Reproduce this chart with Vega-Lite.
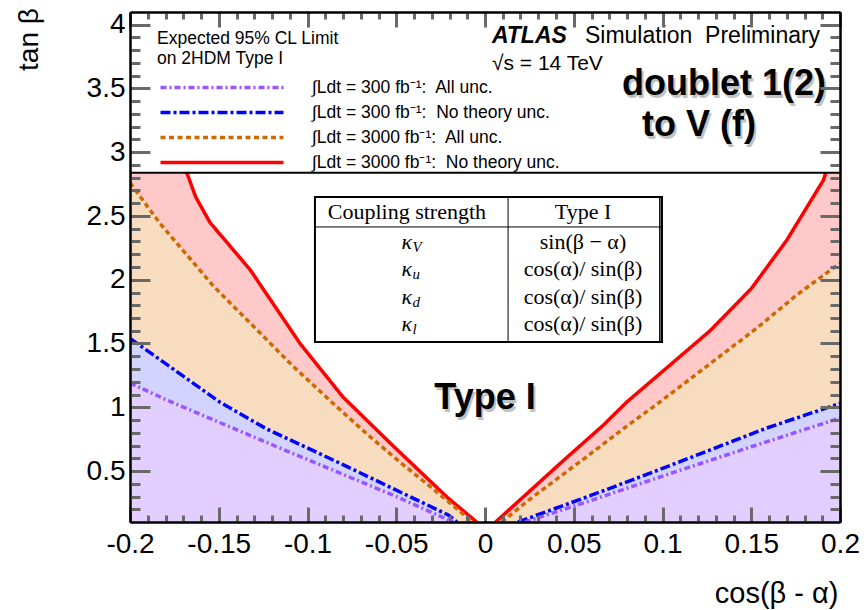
{
  "$schema": "https://vega.github.io/schema/vega-lite/v6.json",
  "width": 710,
  "height": 510,
  "autosize": {"type": "none"},
  "padding": {"left": 130, "top": 12, "right": 26, "bottom": 88},
  "background": "white",
  "config": {
    "view": {"stroke": null},
    "font": "Liberation Sans",
    "axis": {"grid": false, "domainColor": "black", "domainWidth": 2, "labelFont": "Liberation Sans", "labelFontSize": 28, "labelColor": "black", "titleFont": "Liberation Sans", "titleFontSize": 28, "titleFontWeight": "normal", "titleColor": "black", "labelOverlap": false, "labelFlush": false, "labelBound": false}
  },
  "datasets": {
    "curves": [
      {"series": "∫Ldt = 3000 fb⁻¹:  No theory unc.", "side": "L", "kind": "corner", "x": -0.2, "y": 2.84},
      {"series": "∫Ldt = 3000 fb⁻¹:  No theory unc.", "side": "L", "x": -0.168, "y": 2.84},
      {"series": "∫Ldt = 3000 fb⁻¹:  No theory unc.", "side": "L", "x": -0.163, "y": 2.65},
      {"series": "∫Ldt = 3000 fb⁻¹:  No theory unc.", "side": "L", "x": -0.155, "y": 2.45},
      {"series": "∫Ldt = 3000 fb⁻¹:  No theory unc.", "side": "L", "x": -0.1324, "y": 2.08},
      {"series": "∫Ldt = 3000 fb⁻¹:  No theory unc.", "side": "L", "x": -0.1042, "y": 1.5},
      {"series": "∫Ldt = 3000 fb⁻¹:  No theory unc.", "side": "L", "x": -0.08, "y": 1.08},
      {"series": "∫Ldt = 3000 fb⁻¹:  No theory unc.", "side": "L", "x": -0.052, "y": 0.7},
      {"series": "∫Ldt = 3000 fb⁻¹:  No theory unc.", "side": "L", "x": -0.021, "y": 0.29},
      {"series": "∫Ldt = 3000 fb⁻¹:  No theory unc.", "side": "L", "x": -0.0047, "y": 0.1},
      {"series": "∫Ldt = 3000 fb⁻¹:  No theory unc.", "side": "R", "x": 0.006, "y": 0.1},
      {"series": "∫Ldt = 3000 fb⁻¹:  No theory unc.", "side": "R", "x": 0.044, "y": 0.58},
      {"series": "∫Ldt = 3000 fb⁻¹:  No theory unc.", "side": "R", "x": 0.0667, "y": 0.86},
      {"series": "∫Ldt = 3000 fb⁻¹:  No theory unc.", "side": "R", "x": 0.0798, "y": 1.04},
      {"series": "∫Ldt = 3000 fb⁻¹:  No theory unc.", "side": "R", "x": 0.1268, "y": 1.6},
      {"series": "∫Ldt = 3000 fb⁻¹:  No theory unc.", "side": "R", "x": 0.15, "y": 1.93},
      {"series": "∫Ldt = 3000 fb⁻¹:  No theory unc.", "side": "R", "x": 0.17, "y": 2.31},
      {"series": "∫Ldt = 3000 fb⁻¹:  No theory unc.", "side": "R", "x": 0.1906, "y": 2.78},
      {"series": "∫Ldt = 3000 fb⁻¹:  No theory unc.", "side": "R", "x": 0.192, "y": 2.84},
      {"series": "∫Ldt = 3000 fb⁻¹:  No theory unc.", "side": "R", "kind": "corner", "x": 0.2, "y": 2.84},

      {"series": "∫Ldt = 3000 fb⁻¹:  All unc.", "side": "L", "x": -0.2, "y": 2.76},
      {"series": "∫Ldt = 3000 fb⁻¹:  All unc.", "side": "L", "x": -0.183, "y": 2.44},
      {"series": "∫Ldt = 3000 fb⁻¹:  All unc.", "side": "L", "x": -0.153, "y": 1.95},
      {"series": "∫Ldt = 3000 fb⁻¹:  All unc.", "side": "L", "x": -0.108, "y": 1.32},
      {"series": "∫Ldt = 3000 fb⁻¹:  All unc.", "side": "L", "x": -0.0856, "y": 1.03},
      {"series": "∫Ldt = 3000 fb⁻¹:  All unc.", "side": "L", "x": -0.0665, "y": 0.79},
      {"series": "∫Ldt = 3000 fb⁻¹:  All unc.", "side": "L", "x": -0.048, "y": 0.57},
      {"series": "∫Ldt = 3000 fb⁻¹:  All unc.", "side": "L", "x": -0.031, "y": 0.38},
      {"series": "∫Ldt = 3000 fb⁻¹:  All unc.", "side": "L", "x": -0.007, "y": 0.1},
      {"series": "∫Ldt = 3000 fb⁻¹:  All unc.", "side": "R", "x": 0.0094, "y": 0.1},
      {"series": "∫Ldt = 3000 fb⁻¹:  All unc.", "side": "R", "x": 0.0254, "y": 0.28},
      {"series": "∫Ldt = 3000 fb⁻¹:  All unc.", "side": "R", "x": 0.059, "y": 0.63},
      {"series": "∫Ldt = 3000 fb⁻¹:  All unc.", "side": "R", "x": 0.0778, "y": 0.83},
      {"series": "∫Ldt = 3000 fb⁻¹:  All unc.", "side": "R", "x": 0.1003, "y": 1.06},
      {"series": "∫Ldt = 3000 fb⁻¹:  All unc.", "side": "R", "x": 0.1531, "y": 1.62},
      {"series": "∫Ldt = 3000 fb⁻¹:  All unc.", "side": "R", "x": 0.1756, "y": 1.88},
      {"series": "∫Ldt = 3000 fb⁻¹:  All unc.", "side": "R", "x": 0.2, "y": 2.13},

      {"series": "∫Ldt = 300 fb⁻¹:  No theory unc.", "side": "L", "x": -0.2, "y": 1.54},
      {"series": "∫Ldt = 300 fb⁻¹:  No theory unc.", "side": "L", "x": -0.1493, "y": 1.04},
      {"series": "∫Ldt = 300 fb⁻¹:  No theory unc.", "side": "L", "x": -0.123, "y": 0.83},
      {"series": "∫Ldt = 300 fb⁻¹:  No theory unc.", "side": "L", "x": -0.08, "y": 0.55},
      {"series": "∫Ldt = 300 fb⁻¹:  No theory unc.", "side": "L", "x": -0.0207, "y": 0.155},
      {"series": "∫Ldt = 300 fb⁻¹:  No theory unc.", "side": "L", "x": -0.0158, "y": 0.1},
      {"series": "∫Ldt = 300 fb⁻¹:  No theory unc.", "side": "R", "x": 0.0186, "y": 0.1},
      {"series": "∫Ldt = 300 fb⁻¹:  No theory unc.", "side": "R", "x": 0.06, "y": 0.31},
      {"series": "∫Ldt = 300 fb⁻¹:  No theory unc.", "side": "R", "x": 0.1, "y": 0.52},
      {"series": "∫Ldt = 300 fb⁻¹:  No theory unc.", "side": "R", "x": 0.1587, "y": 0.837},
      {"series": "∫Ldt = 300 fb⁻¹:  No theory unc.", "side": "R", "x": 0.2, "y": 1.03},

      {"series": "∫Ldt = 300 fb⁻¹:  All unc.", "side": "L", "x": -0.2, "y": 1.19},
      {"series": "∫Ldt = 300 fb⁻¹:  All unc.", "side": "L", "x": -0.1793, "y": 1.057},
      {"series": "∫Ldt = 300 fb⁻¹:  All unc.", "side": "L", "x": -0.1173, "y": 0.69},
      {"series": "∫Ldt = 300 fb⁻¹:  All unc.", "side": "L", "x": -0.0497, "y": 0.298},
      {"series": "∫Ldt = 300 fb⁻¹:  All unc.", "side": "L", "x": -0.018, "y": 0.1},
      {"series": "∫Ldt = 300 fb⁻¹:  All unc.", "side": "R", "x": 0.0225, "y": 0.1},
      {"series": "∫Ldt = 300 fb⁻¹:  All unc.", "side": "R", "x": 0.06, "y": 0.27},
      {"series": "∫Ldt = 300 fb⁻¹:  All unc.", "side": "R", "x": 0.1, "y": 0.46},
      {"series": "∫Ldt = 300 fb⁻¹:  All unc.", "side": "R", "x": 0.15, "y": 0.69},
      {"series": "∫Ldt = 300 fb⁻¹:  All unc.", "side": "R", "x": 0.2, "y": 0.915}
    ]
  },
  "data": {"name": "curves"},
  "layer": [
    {
      "transform": [{"filter": "datum.series == '∫Ldt = 3000 fb⁻¹:  No theory unc.'"}],
      "mark": {"type": "area", "fill": "#ffc9c9", "orient": "vertical"},
      "encoding": {
        "x": {"field": "x", "type": "quantitative", "scale": {"domain": [-0.2, 0.2], "nice": false, "zero": false},
          "axis": {"orient": "bottom", "zindex": 2, "values": [-0.2,-0.15,-0.1,-0.05,0,0.05,0.1,0.15,0.2], "ticks": true, "tickSize": -15, "tickColor": "dimgray", "tickWidth": 3,
            "labelExpr": "(datum.value<0 ? '-' : '') + format(abs(datum.value), '~g')",
            "labelPadding": 23, "title": "cos(β - α)", "titleX": 708, "titleY": 80, "titleAlign": "right", "titleBaseline": "alphabetic", "titleFontSize": 29}},
        "y": {"field": "y", "type": "quantitative", "stack": null, "scale": {"domain": [0.1, 4.1], "nice": false, "zero": false},
          "axis": {"orient": "left", "zindex": 2, "values": [0.5,1,1.5,2,2.5,3,3.5,4], "ticks": true, "tickSize": -20, "tickColor": "dimgray", "tickWidth": 3,
            "labelExpr": "format(datum.value, '~g')",
            "labelPadding": 25, "title": "tan β", "titleX": -93, "titleY": 27, "titleAngle": -90, "titleAlign": "center", "titleBaseline": "alphabetic"}},
        "y2": {"datum": 0.1},
        "detail": {"field": "side"}
      }
    },
    {
      "transform": [{"filter": "datum.series == '∫Ldt = 3000 fb⁻¹:  All unc.'"}],
      "mark": {"type": "area", "fill": "#f8dcc0", "orient": "vertical"},
      "encoding": {
        "x": {"field": "x", "type": "quantitative",
          "axis": {"orient": "top", "zindex": 2, "ticks": true, "tickSize": -15, "tickColor": "dimgray", "tickWidth": 3, "values": [-0.2,-0.15,-0.1,-0.05,0,0.05,0.1,0.15,0.2], "labels": false, "title": null}},
        "y": {"field": "y", "type": "quantitative", "stack": null,
          "axis": {"orient": "right", "zindex": 2, "ticks": true, "tickSize": -20, "tickColor": "dimgray", "tickWidth": 3, "values": [0.5,1,1.5,2,2.5,3,3.5,4], "labels": false, "title": null}},
        "y2": {"datum": 0.1},
        "detail": {"field": "side"}
      }
    },
    {
      "transform": [{"filter": "datum.series == '∫Ldt = 300 fb⁻¹:  No theory unc.'"}],
      "mark": {"type": "area", "fill": "#d3d3ff", "orient": "vertical"},
      "encoding": {
        "x": {"field": "x", "type": "quantitative",
          "axis": {"orient": "bottom", "zindex": 2, "ticks": true, "tickSize": -7, "tickColor": "dimgray", "tickWidth": 3, "labels": false, "title": null,
            "values": [-0.19,-0.18,-0.17,-0.16,-0.14,-0.13,-0.12,-0.11,-0.09,-0.08,-0.07,-0.06,-0.04,-0.03,-0.02,-0.01,0.01,0.02,0.03,0.04,0.06,0.07,0.08,0.09,0.11,0.12,0.13,0.14,0.16,0.17,0.18,0.19]}},
        "y": {"field": "y", "type": "quantitative", "stack": null,
          "axis": {"orient": "left", "zindex": 2, "ticks": true, "tickSize": -10, "tickColor": "dimgray", "tickWidth": 3, "labels": false, "title": null,
            "values": [0.2,0.3,0.4,0.6,0.7,0.8,0.9,1.1,1.2,1.3,1.4,1.6,1.7,1.8,1.9,2.1,2.2,2.3,2.4,2.6,2.7,2.8,2.9,3.1,3.2,3.3,3.4,3.6,3.7,3.8,3.9]}},
        "y2": {"datum": 0.1},
        "detail": {"field": "side"}
      }
    },
    {
      "transform": [{"filter": "datum.series == '∫Ldt = 300 fb⁻¹:  All unc.'"}],
      "mark": {"type": "area", "fill": "#e3cfff", "orient": "vertical"},
      "encoding": {
        "x": {"field": "x", "type": "quantitative",
          "axis": {"orient": "top", "zindex": 2, "ticks": true, "tickSize": -7, "tickColor": "dimgray", "tickWidth": 3, "labels": false, "title": null,
            "values": [-0.19,-0.18,-0.17,-0.16,-0.14,-0.13,-0.12,-0.11,-0.09,-0.08,-0.07,-0.06,-0.04,-0.03,-0.02,-0.01,0.01,0.02,0.03,0.04,0.06,0.07,0.08,0.09,0.11,0.12,0.13,0.14,0.16,0.17,0.18,0.19]}},
        "y": {"field": "y", "type": "quantitative", "stack": null,
          "axis": {"orient": "right", "zindex": 2, "ticks": true, "tickSize": -10, "tickColor": "dimgray", "tickWidth": 3, "labels": false, "title": null,
            "values": [0.2,0.3,0.4,0.6,0.7,0.8,0.9,1.1,1.2,1.3,1.4,1.6,1.7,1.8,1.9,2.1,2.2,2.3,2.4,2.6,2.7,2.8,2.9,3.1,3.2,3.3,3.4,3.6,3.7,3.8,3.9]}},
        "y2": {"datum": 0.1},
        "detail": {"field": "side"}
      }
    },
    {
      "transform": [{"filter": "datum.kind != 'corner'"}],
      "mark": {"type": "line", "strokeWidth": 3.5, "strokeCap": "butt", "clip": true},
      "encoding": {
        "x": {"field": "x", "type": "quantitative", "axis": null},
        "y": {"field": "y", "type": "quantitative", "axis": null},
        "detail": {"field": "side"},
        "color": {"field": "series", "type": "nominal", "title": ["Expected 95% CL Limit", "on 2HDM Type I"],
          "scale": {"domain": ["∫Ldt = 300 fb⁻¹:  All unc.", "∫Ldt = 300 fb⁻¹:  No theory unc.", "∫Ldt = 3000 fb⁻¹:  All unc.", "∫Ldt = 3000 fb⁻¹:  No theory unc."], "range": ["#9955ff", "#0000ff", "#cc6a00", "#ff0000"]},
          "legend": {"orient": "none", "legendX": 27, "legendY": 18, "padding": 0, "titleFont": "Liberation Sans", "titleFontSize": 17.5, "titleFontWeight": "normal", "titleColor": "black", "titleLineHeight": 20, "titlePadding": 8, "titleLimit": 500, "labelFont": "Liberation Sans", "labelFontSize": 17.5, "labelColor": "black", "labelLimit": 500, "labelOffset": 78, "labelExpr": "replace(datum.label, ':  ', ':\u00a0 ')", "symbolType": "M-6.15,0H6.15", "symbolSize": 400, "symbolStrokeWidth": 3.5, "symbolOffset": 53, "rowPadding": 4}},
        "strokeDash": {"field": "series", "type": "nominal", "title": ["Expected 95% CL Limit", "on 2HDM Type I"],
          "scale": {"domain": ["∫Ldt = 300 fb⁻¹:  All unc.", "∫Ldt = 300 fb⁻¹:  No theory unc.", "∫Ldt = 3000 fb⁻¹:  All unc.", "∫Ldt = 3000 fb⁻¹:  No theory unc."], "range": [[6, 3, 2, 3], [10, 3, 3, 3], [5, 3.5], [1, 0]]},
          "legend": {"orient": "none", "legendX": 27, "legendY": 18, "padding": 0, "titleFont": "Liberation Sans", "titleFontSize": 17.5, "titleFontWeight": "normal", "titleColor": "black", "titleLineHeight": 20, "titlePadding": 8, "titleLimit": 500, "labelFont": "Liberation Sans", "labelFontSize": 17.5, "labelColor": "black", "labelLimit": 500, "labelOffset": 78, "labelExpr": "replace(datum.label, ':  ', ':\u00a0 ')", "symbolType": "M-6.15,0H6.15", "symbolSize": 400, "symbolStrokeWidth": 3.5, "symbolOffset": 53, "rowPadding": 4}}
      }
    },
    {
      "data": {"values": [{}]},
      "mark": {"type": "rule", "color": "black", "strokeWidth": 2},
      "encoding": {"y": {"datum": 2.84, "type": "quantitative", "axis": null}}
    },
    {
      "data": {"values": [{}]},
      "mark": {"type": "rect", "fill": "white", "stroke": "black", "strokeWidth": 2},
      "encoding": {
        "x": {"datum": -0.0958, "type": "quantitative", "axis": null},
        "x2": {"datum": 0.0997},
        "y": {"datum": 2.649, "type": "quantitative", "axis": null},
        "y2": {"datum": 1.512}
      }
    },
    {
      "data": {"values": [{}]},
      "mark": {"type": "rule", "color": "black", "strokeWidth": 1},
      "encoding": {
        "x": {"datum": -0.0958, "type": "quantitative", "axis": null}, "x2": {"datum": 0.0997},
        "y": {"datum": 2.414, "type": "quantitative", "axis": null}
      }
    },
    {
      "data": {"values": [{}]},
      "mark": {"type": "rule", "color": "black", "strokeWidth": 1},
      "encoding": {
        "x": {"datum": 0.013, "type": "quantitative", "axis": null},
        "y": {"datum": 2.649, "type": "quantitative", "axis": null}, "y2": {"datum": 1.512}
      }
    },
    {
      "data": {"values": [{}]},
      "mark": {"type": "rule", "color": "black", "strokeWidth": 1.5},
      "encoding": {
        "x": {"datum": 0.0985, "type": "quantitative", "axis": null},
        "y": {"datum": 2.649, "type": "quantitative", "axis": null}, "y2": {"datum": 1.512}
      }
    },
    {
      "data": {"values": [{}]},
      "mark": {"type": "text", "text": "Coupling strength", "font": "Liberation Serif", "fontSize": 22, "align": "center", "baseline": "middle", "color": "black"},
      "encoding": {"x": {"datum": -0.044, "type": "quantitative", "axis": null}, "y": {"datum": 2.531, "type": "quantitative", "axis": null}}
    },
    {
      "data": {"values": [{}]},
      "mark": {"type": "text", "text": "Type I", "font": "Liberation Serif", "fontSize": 22, "align": "center", "baseline": "middle", "color": "black"},
      "encoding": {"x": {"datum": 0.0552, "type": "quantitative", "axis": null}, "y": {"datum": 2.531, "type": "quantitative", "axis": null}}
    },
    {
      "data": {"values": [{}]},
      "mark": {"type": "text", "text": ["sin(β − α)", "cos(α)/ sin(β)", "cos(α)/ sin(β)", "cos(α)/ sin(β)"], "lineHeight": 27.3, "font": "Liberation Serif", "fontSize": 22, "align": "center", "baseline": "middle", "color": "black"},
      "encoding": {"x": {"datum": 0.0552, "type": "quantitative", "axis": null}, "y": {"datum": 2.296, "type": "quantitative", "axis": null}}
    },
    {
      "data": {"values": [{}]},
      "mark": {"type": "text", "text": ["κ", "κ", "κ", "κ"], "lineHeight": 27.3, "font": "Liberation Serif", "fontStyle": "italic", "fontSize": 22, "align": "right", "baseline": "middle", "color": "black"},
      "encoding": {"x": {"datum": -0.0411, "type": "quantitative", "axis": null}, "y": {"datum": 2.296, "type": "quantitative", "axis": null}}
    },
    {
      "data": {"values": [{}]},
      "mark": {"type": "text", "text": ["V", "u", "d", "l"], "lineHeight": 27.3, "font": "Liberation Serif", "fontStyle": "italic", "fontSize": 15, "align": "left", "baseline": "middle", "dy": 5, "color": "black"},
      "encoding": {"x": {"datum": -0.0408, "type": "quantitative", "axis": null}, "y": {"datum": 2.296, "type": "quantitative", "axis": null}}
    },
    {
      "data": {"values": [{}]},
      "mark": {"type": "text", "text": "ATLAS", "font": "Liberation Sans", "fontSize": 23, "fontWeight": "bold", "fontStyle": "italic", "align": "left", "baseline": "alphabetic", "color": "black"},
      "encoding": {"x": {"datum": 0.0039, "type": "quantitative", "axis": null}, "y": {"datum": 3.857, "type": "quantitative", "axis": null}}
    },
    {
      "data": {"values": [{}]},
      "mark": {"type": "text", "text": "Simulation\u00a0 Preliminary", "font": "Liberation Sans", "fontSize": 23, "align": "left", "baseline": "alphabetic", "color": "black"},
      "encoding": {"x": {"datum": 0.0563, "type": "quantitative", "axis": null}, "y": {"datum": 3.857, "type": "quantitative", "axis": null}}
    },
    {
      "data": {"values": [{}]},
      "mark": {"type": "text", "text": "√s = 14 TeV", "font": "Liberation Sans", "fontSize": 21, "align": "left", "baseline": "alphabetic", "color": "black"},
      "encoding": {"x": {"datum": 0.0039, "type": "quantitative", "axis": null}, "y": {"datum": 3.645, "type": "quantitative", "axis": null}}
    },
    {
      "data": {"values": [{}]},
      "mark": {"type": "text", "text": "doublet 1(2)", "font": "Liberation Sans", "fontSize": 36, "fontWeight": "bold", "align": "left", "baseline": "alphabetic", "dx": 2, "dy": 3, "color": "#777777", "opacity": 0.45},
      "encoding": {"x": {"datum": 0.0772, "type": "quantitative", "axis": null}, "y": {"datum": 3.449, "type": "quantitative", "axis": null}}
    },
    {
      "data": {"values": [{}]},
      "mark": {"type": "text", "text": "doublet 1(2)", "font": "Liberation Sans", "fontSize": 36, "fontWeight": "bold", "align": "left", "baseline": "alphabetic", "color": "black"},
      "encoding": {"x": {"datum": 0.0772, "type": "quantitative", "axis": null}, "y": {"datum": 3.449, "type": "quantitative", "axis": null}}
    },
    {
      "data": {"values": [{}]},
      "mark": {"type": "text", "text": "to V (f)", "font": "Liberation Sans", "fontSize": 36, "fontWeight": "bold", "align": "left", "baseline": "alphabetic", "dx": 2, "dy": 3, "color": "#777777", "opacity": 0.45},
      "encoding": {"x": {"datum": 0.0885, "type": "quantitative", "axis": null}, "y": {"datum": 3.127, "type": "quantitative", "axis": null}}
    },
    {
      "data": {"values": [{}]},
      "mark": {"type": "text", "text": "to V (f)", "font": "Liberation Sans", "fontSize": 36, "fontWeight": "bold", "align": "left", "baseline": "alphabetic", "color": "black"},
      "encoding": {"x": {"datum": 0.0885, "type": "quantitative", "axis": null}, "y": {"datum": 3.127, "type": "quantitative", "axis": null}}
    },
    {
      "data": {"values": [{}]},
      "mark": {"type": "text", "text": "Type I", "font": "Liberation Sans", "fontSize": 36, "fontWeight": "bold", "align": "center", "baseline": "alphabetic", "dx": 2, "dy": 3, "color": "#777777", "opacity": 0.45},
      "encoding": {"x": {"datum": 0.0, "type": "quantitative", "axis": null}, "y": {"datum": 0.986, "type": "quantitative", "axis": null}}
    },
    {
      "data": {"values": [{}]},
      "mark": {"type": "text", "text": "Type I", "font": "Liberation Sans", "fontSize": 36, "fontWeight": "bold", "align": "center", "baseline": "alphabetic", "color": "black"},
      "encoding": {"x": {"datum": 0.0, "type": "quantitative", "axis": null}, "y": {"datum": 0.986, "type": "quantitative", "axis": null}}
    }
  ],
  "resolve": {"axis": {"x": "independent", "y": "independent"}}
}
